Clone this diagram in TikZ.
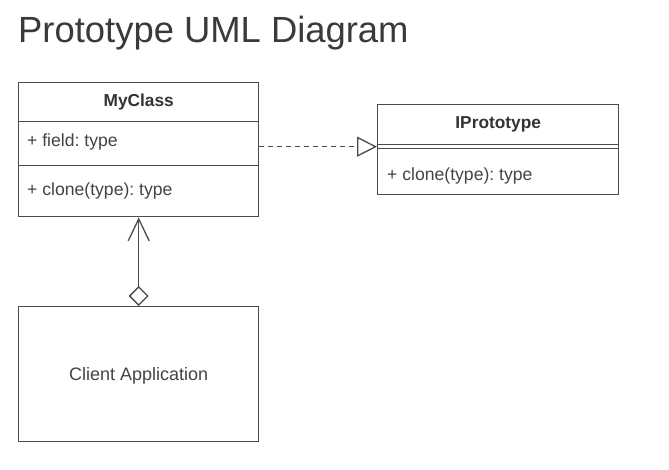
\documentclass[tikz,border=0pt]{standalone}
\usepackage{fontspec}
\setmainfont{Liberation Sans}
\usetikzlibrary{arrows.meta}
\definecolor{linec}{HTML}{4A4A4A}
\definecolor{textc}{HTML}{444444}
\definecolor{titlec}{HTML}{3A3A3A}
\frenchspacing
\begin{document}
\begin{tikzpicture}[x=1pt,y=-1pt,
  comp/.style={draw=linec,line width=1.4pt,fill=white,rectangle,inner sep=0pt,anchor=north west},
  txt/.style={text=textc,font=\fontsize{17.6}{20}\selectfont,inner sep=0pt},
  conn/.style={draw=linec,line width=1.3pt}]
\useasboundingbox (0,0) rectangle (669,470);
\fill[white] (0,0) rectangle (669,470);
% title
\node[anchor=base west,inner sep=0pt,text=titlec,font=\fontsize{36.4}{40}\selectfont] (title) at (18,43) {Prototype UML Diagram};
% MyClass
\node[comp,minimum width=240pt,minimum height=39pt] (mchead) at (18,82) {};
\node[comp,minimum width=240pt,minimum height=44pt] (mcfields) at (18,121) {};
\node[comp,minimum width=240pt,minimum height=51pt] (mcmeth) at (18,165) {};
\node[txt,font=\bfseries\fontsize{17.3}{20}\selectfont,text=black!80] (mcname) at (mchead.center) {MyClass};
\node[txt,anchor=west] (mcfield) at ([xshift=9pt,yshift=2pt]mcfields.west) {+ field: type};
\node[txt,anchor=west] (mcclone) at ([xshift=9pt]mcmeth.west) {+ clone(type): type};
% IPrototype
\node[comp,minimum width=241pt,minimum height=40pt] (iphead) at (377,104) {};
\node[comp,minimum width=241pt,minimum height=4pt] (ipempty) at (377,144) {};
\node[comp,minimum width=241pt,minimum height=46pt] (ipmeth) at (377,148) {};
\node[txt,font=\bfseries\fontsize{17.3}{20}\selectfont,text=black!80] (ipname) at (iphead.center) {IPrototype};
\node[txt,anchor=west] (ipclone) at ([xshift=10pt,yshift=-4pt]ipmeth.west) {+ clone(type): type};
% Client
\node[comp,minimum width=240pt,minimum height=135pt] (client) at (18,306) {};
\node[txt,font=\fontsize{18}{21}\selectfont] (clientname) at ([yshift=-2pt]client.center) {Client Application};
% realization
\draw[conn,dash pattern=on 5pt off 4pt,-{Triangle[open,length=20pt,width=20pt,fill=white,line width=1.3pt]}]
  (mcfields.east |- ipempty.west) -- (ipempty.west);
% aggregation
\draw[conn,{Diamond[open,length=20pt,width=20pt,fill=white,line width=1.3pt]}-{Straight Barb[length=22pt,width=21pt,line width=1.3pt]}]
  (client.north) -- (mcmeth.south);
\end{tikzpicture}
\end{document}
